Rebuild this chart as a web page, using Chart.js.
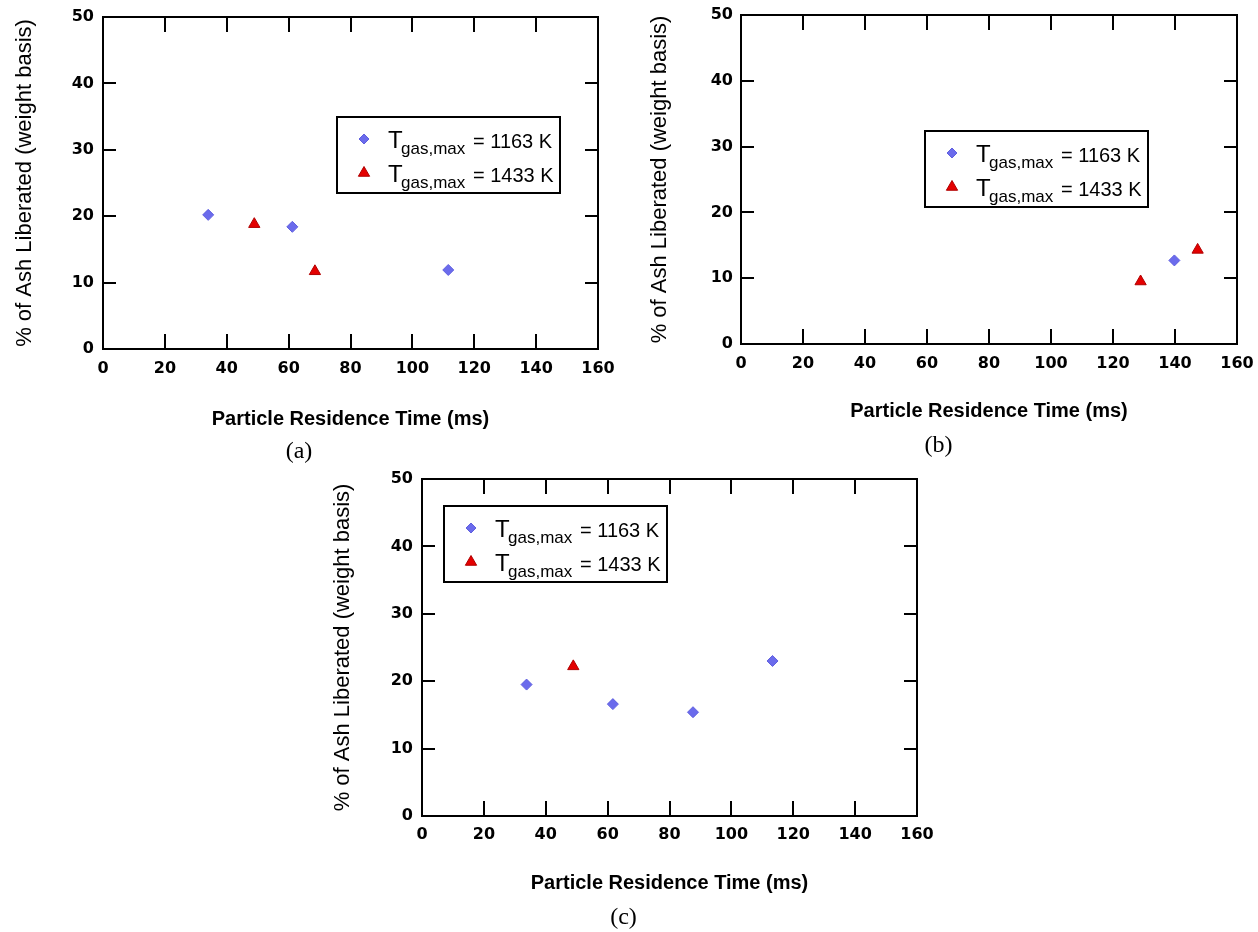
<!DOCTYPE html>
<html>
<head>
<meta charset="utf-8">
<title>Ash liberated vs particle residence time</title>
<script src="https://cdn.jsdelivr.net/npm/chart.js@4.4.1/dist/chart.umd.min.js"></script>
<style>
  body { margin: 0; background: #fff; }
  #page { position: relative; width: 1258px; height: 932px; }
  canvas { position: absolute; }
</style>
</head>
<body>
<div id="page">
  <canvas id="chartA" width="620" height="470" style="left:0;top:0"></canvas>
  <canvas id="chartB" width="618" height="470" style="left:640px;top:0"></canvas>
  <canvas id="chartC" width="606" height="472" style="left:330px;top:460px"></canvas>
</div>
<script>
// values
const legendTemps = ['1163 K', '1433 K'];

const timeA1163 = [34, 61.2, 111.6];
const ashA1163 = [20.2, 18.4, 11.9];
const timeA1433 = [48.9, 68.5];
const ashA1433 = [18.8, 11.7];

const timeB1163 = [139.8];
const ashB1163 = [12.7];
const timeB1433 = [128.9, 147.3];
const ashB1433 = [9.5, 14.3];

const timeC1163 = [33.8, 61.7, 87.6, 113.3];
const ashC1163 = [19.5, 16.6, 15.4, 23.0];
const timeC1433 = [48.9];
const ashC1433 = [22.2];

const xTicks = [0, 20, 40, 60, 80, 100, 120, 140, 160];
const yTicks = [0, 10, 20, 30, 40, 50];

const xTitle = 'Particle Residence Time (ms)';
const yTitle = '% of Ash Liberated (weight basis)';

const pts = (xs, ys) => xs.map((v, i) => ({x: v, y: ys[i]}));

// box round the plot with inward ticks on all four sides
const boxTicks = {
  id: 'boxTicks',
  beforeDatasetsDraw(chart) {
    const {ctx, chartArea: a, scales: {x, y}} = chart;
    ctx.save();
    ctx.strokeStyle = '#000';
    ctx.lineWidth = 2;
    ctx.strokeRect(a.left, a.top, a.right - a.left, a.bottom - a.top);
    ctx.beginPath();
    x.ticks.forEach(t => {
      if (t.value === x.min || t.value === x.max) return;
      const px = Math.round(x.getPixelForValue(t.value));
      ctx.moveTo(px, a.bottom); ctx.lineTo(px, a.bottom - 15);
      ctx.moveTo(px, a.top); ctx.lineTo(px, a.top + 15);
    });
    y.ticks.forEach(t => {
      if (t.value === y.min || t.value === y.max) return;
      const py = Math.round(y.getPixelForValue(t.value));
      ctx.moveTo(a.left, py); ctx.lineTo(a.left + 13, py);
      ctx.moveTo(a.right, py); ctx.lineTo(a.right - 13, py);
    });
    ctx.stroke();
    ctx.restore();
  }
};

// legend with the subscript T_gas,max
const gasLegend = {
  id: 'gasLegend',
  afterDatasetsDraw(chart, args, opts) {
    const {ctx, chartArea: a} = chart;
    const bx = a.left + opts.dx, by = a.top + opts.dy;
    ctx.save();
    ctx.fillStyle = '#fff';
    ctx.fillRect(bx, by, 223, 76);
    ctx.strokeStyle = '#000';
    ctx.lineWidth = 2;
    ctx.strokeRect(bx, by, 223, 76);
    chart.data.datasets.forEach((ds, i) => {
      const base = by + 31 + i * 34;
      ctx.fillStyle = ds.backgroundColor;
      ctx.strokeStyle = ds.borderColor;
      ctx.lineWidth = 1;
      Chart.helpers.drawPoint(ctx, {pointStyle: ds.pointStyle, rotation: 0, radius: i ? 6.5 : 5, borderWidth: 1}, bx + 27, base - 9);
      ctx.fillStyle = '#000';
      ctx.textBaseline = 'alphabetic';
      ctx.textAlign = 'left';
      ctx.font = '24px "Liberation Sans"';
      ctx.fillText('T', bx + 51, base);
      ctx.font = '17px "Liberation Sans"';
      ctx.fillText('gas,max', bx + 64, base + 6);
      ctx.font = '20px "Liberation Sans"';
      ctx.fillText('= ' + legendTemps[i], bx + 136, base);
    });
    ctx.restore();
  }
};

function makePanel(id, caption, set1163, set1433, lay) {
  const tickFont = {family: 'DejaVu Sans', size: 16, weight: 'bold'};
  return new Chart(document.getElementById(id), {
    type: 'scatter',
    data: {
      datasets: [{
        label: legendTemps[0],
        data: set1163,
        pointStyle: 'rectRot',
        pointRadius: 5.5,
        backgroundColor: '#6b6bec',
        borderColor: '#5f5fdf',
        borderWidth: 1
      }, {
        label: legendTemps[1],
        data: set1433,
        pointStyle: 'triangle',
        pointRadius: 6.5,
        backgroundColor: '#e40000',
        borderColor: '#b00000',
        borderWidth: 1
      }]
    },
    options: {
      responsive: false,
      animation: false,
      events: [],
      layout: {padding: {top: lay.top, right: lay.right, left: 0, bottom: 0}},
      scales: {
        x: {
          type: 'linear',
          min: xTicks[0],
          max: xTicks[xTicks.length - 1],
          ticks: {stepSize: xTicks[1] - xTicks[0], padding: lay.xtp, font: tickFont, color: '#000'},
          grid: {display: false, drawTicks: false},
          border: {display: false},
          title: {
            display: true, text: xTitle, color: '#000',
            font: {family: 'Liberation Sans', size: 20, weight: 'bold'},
            padding: {top: 0, bottom: lay.xtb}
          },
          afterFit: s => { s.height = lay.xh; s.paddingLeft = 0; s.paddingRight = 0; }
        },
        y: {
          type: 'linear',
          min: yTicks[0],
          max: yTicks[yTicks.length - 1],
          ticks: {stepSize: yTicks[1] - yTicks[0], padding: lay.ytp, font: tickFont, color: '#000'},
          grid: {display: false, drawTicks: false},
          border: {display: false},
          title: {
            display: true, text: yTitle, color: '#000',
            font: {family: 'Liberation Sans', size: 22, weight: 'normal'},
            padding: {top: lay.ytt, bottom: 0}
          },
          afterFit: s => { s.width = lay.yw; s.paddingTop = 0; s.paddingBottom = 0; }
        }
      },
      plugins: {
        legend: {display: false},
        tooltip: {enabled: false},
        title: {
          display: true,
          position: 'bottom',
          text: caption,
          color: '#000',
          font: {family: 'Liberation Serif', size: 24, weight: 'normal', lineHeight: 1},
          padding: {top: 0, bottom: lay.cb}
        },
        gasLegend: {dx: lay.dx, dy: lay.dy}
      }
    },
    plugins: [boxTicks, gasLegend]
  });
}

makePanel('chartA', '(a)', pts(timeA1163, ashA1163), pts(timeA1433, ashA1433),
  {top: 17, right: 22, yw: 103, xh: 91, xtp: 10, ytp: 9, xtb: 9, ytt: 12, cb: 6, dx: 234, dy: 100});
makePanel('chartB', '(b)', pts(timeB1163, ashB1163), pts(timeB1433, ashB1433),
  {top: 15, right: 21, yw: 101, xh: 90, xtp: 10, ytp: 8, xtb: 11, ytt: 7, cb: 12, dx: 184, dy: 116});
makePanel('chartC', '(c)', pts(timeC1163, ashC1163), pts(timeC1433, ashC1433),
  {top: 19, right: 19, yw: 92, xh: 90, xtp: 9, ytp: 9, xtb: 11, ytt: 0, cb: 2, dx: 22, dy: 27});
</script>
</body>
</html>
